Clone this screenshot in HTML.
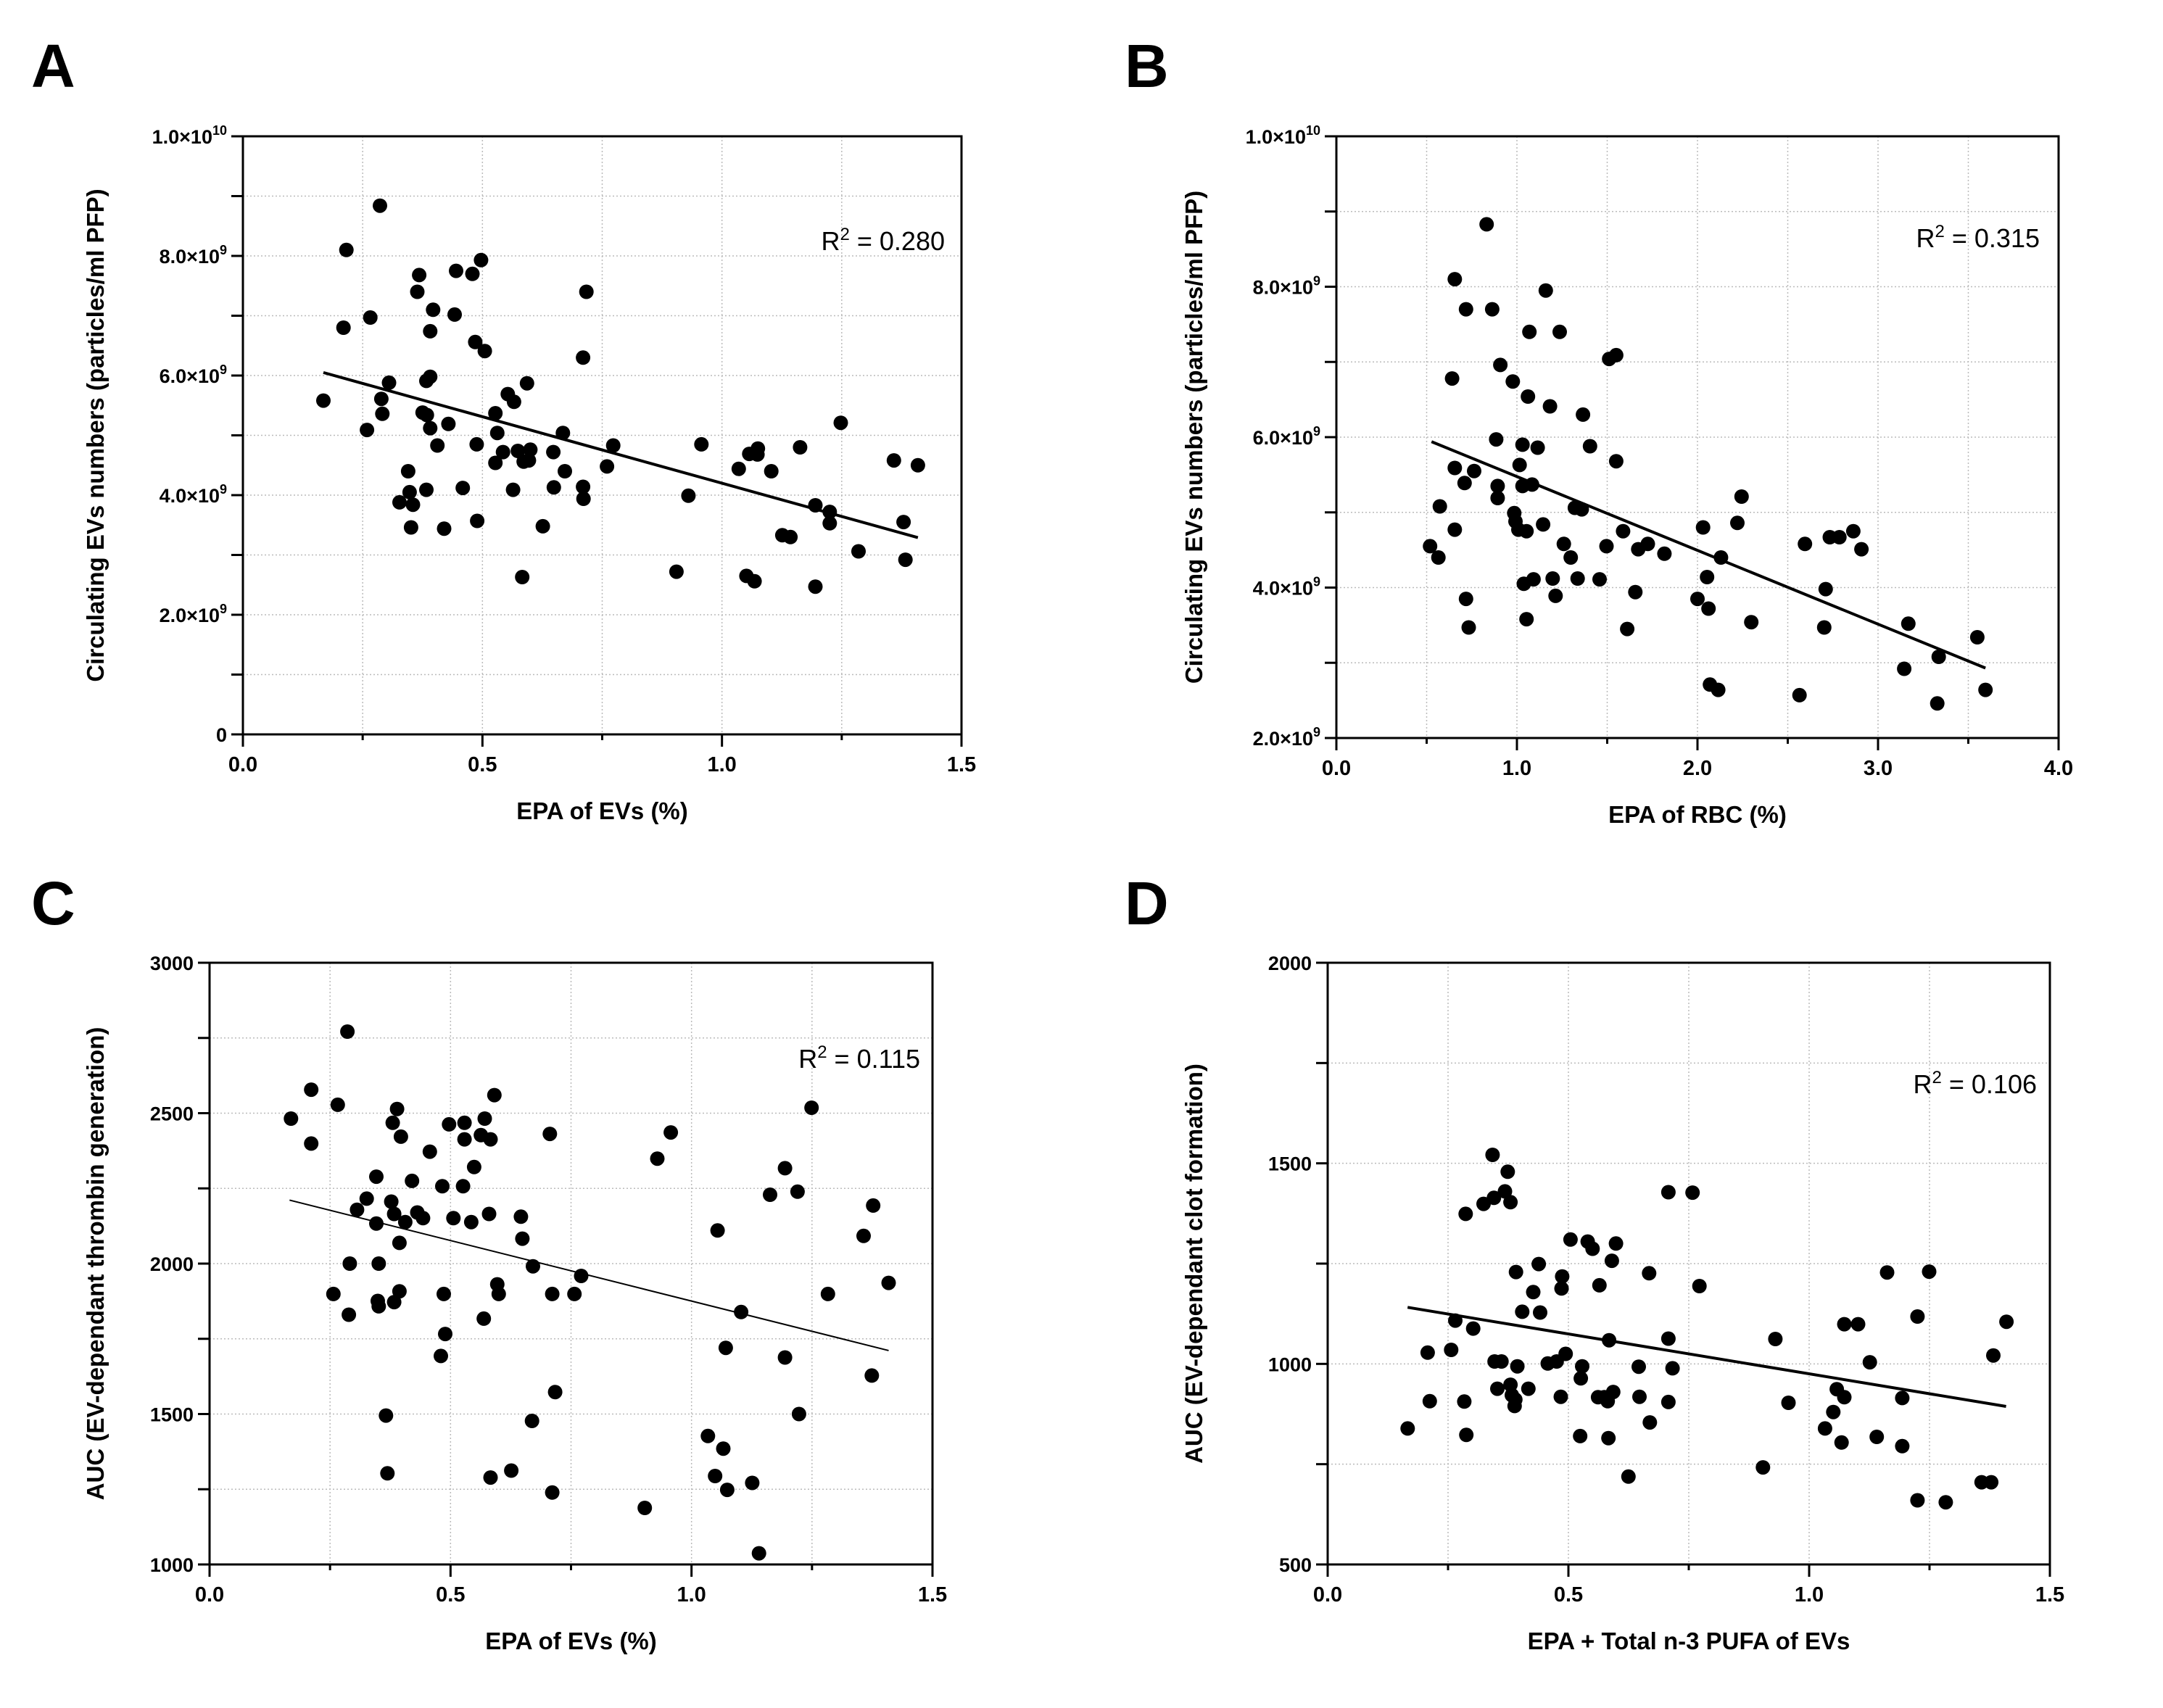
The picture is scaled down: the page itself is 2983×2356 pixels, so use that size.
<!DOCTYPE html>
<html><head><meta charset="utf-8"><style>
html,body{margin:0;padding:0;background:#fff}
svg{display:block}
text{font-family:"Liberation Sans",Arial,sans-serif}
</style></head><body>
<svg id="s" width="2983" height="2356" viewBox="0 0 2983 2356" xmlns="http://www.w3.org/2000/svg"></svg>
<script>
const S=document.getElementById('s');
let out='';
function panel(o){
  const {L,R,T,B,x0,x1,y0,y1}=o;
  const px=x=>L+(x-x0)/(x1-x0)*(R-L);
  const py=y=>B-(y-y0)/(y1-y0)*(B-T);
  for(let v=x0+o.xg; v<x1-1e-9; v+=o.xg){const X=px(v);out+=`<line x1="${X}" y1="${T}" x2="${X}" y2="${B}" stroke="#bbb" stroke-width="1.5" stroke-dasharray="2,3"/>`;}
  for(let v=y0+o.yg; v<y1-1e-9; v+=o.yg){const Y=py(v);out+=`<line x1="${L}" y1="${Y}" x2="${R}" y2="${Y}" stroke="#bbb" stroke-width="1.5" stroke-dasharray="2,3"/>`;}
  out+=`<rect x="${L}" y="${T}" width="${R-L}" height="${B-T}" fill="none" stroke="#000" stroke-width="3"/>`;
  for(let v=x0; v<=x1+1e-9; v+=o.xg){const X=px(v);const maj=Math.abs(v/o.xm-Math.round(v/o.xm))<1e-6;
    out+=`<line x1="${X}" y1="${B}" x2="${X}" y2="${B+(maj?17:8)}" stroke="#000" stroke-width="3"/>`;
    if(maj) out+=`<text x="${X}" y="${B+51}" font-size="29" font-weight="bold" text-anchor="middle">${v.toFixed(1)}</text>`;}
  for(let v=y0; v<=y1+1e-9; v+=o.yg){const Y=py(v);const maj=Math.abs((v-y0)/o.ym-Math.round((v-y0)/o.ym))<1e-6;
    out+=`<line x1="${L-16}" y1="${Y}" x2="${L}" y2="${Y}" stroke="#000" stroke-width="3"/>`;
    if(maj) out+=`<text x="${L-22}" y="${Y+10}" font-size="27" font-weight="bold" text-anchor="end">${o.fmt(v)}</text>`;}
  for(const p of o.pts){out+=`<circle cx="${px(p[0]).toFixed(1)}" cy="${py(p[1]).toFixed(1)}" r="10" fill="#000"/>`;}
  const l=o.line;
  out+=`<line x1="${px(l[0])}" y1="${py(l[1])}" x2="${px(l[2])}" y2="${py(l[3])}" stroke="#000" stroke-width="${o.lw}"/>`;
  out+=`<text x="${o.rx}" y="${o.ry}" font-size="36" text-anchor="end">R<tspan font-size="24" dy="-14">2</tspan><tspan dy="14"> = ${o.r2}</tspan></text>`;
  out+=`<text x="${(L+R)/2}" y="${B+117}" font-size="33" font-weight="bold" text-anchor="middle">${o.xt}</text>`;
  out+=`<text transform="translate(${o.ytx},${(T+B)/2}) rotate(-90)" font-size="33" font-weight="bold" text-anchor="middle">${o.yt}</text>`;
  out+=`<text x="${o.lx}" y="${o.ly}" font-size="84" font-weight="bold">${o.letter}</text>`;
}
const sci=v=>v===0?'0':`${(v/Math.pow(10,Math.floor(Math.log10(v)+1e-9))).toFixed(1)}×10<tspan font-size="18" dy="-12">${Math.floor(Math.log10(v)+1e-9)}</tspan>`;
const A=[[.168,5.58],[.216,8.10],[.210,6.80],[.286,8.84],[.266,6.97],[.259,5.09],[.289,5.61],[.291,5.36],[.305,5.88],[.345,4.40],[.348,4.05],[.327,3.88],[.351,3.46],[.355,3.84],[.364,7.40],[.368,7.68],[.375,5.38],[.383,4.09],[.383,5.91],[.384,5.34],[.391,6.74],[.391,5.98],[.391,5.12],[.397,7.10],[.406,4.83],[.420,3.44],[.429,5.19],[.442,7.02],[.445,7.75],[.459,4.12],[.479,7.70],[.485,6.56],[.488,4.85],[.489,3.57],[.497,7.93],[.505,6.41],[.527,5.37],[.527,4.54],[.531,5.04],[.543,4.72],[.553,5.69],[.564,4.09],[.566,5.56],[.574,4.74],[.583,2.63],[.586,4.56],[.593,5.87],[.597,4.58],[.600,4.76],[.626,3.48],[.648,4.72],[.649,4.13],[.668,5.04],[.672,4.40],[.710,6.30],[.710,4.14],[.711,3.94],[.717,7.40],[.760,4.48],[.773,4.83],[.905,2.72],[.930,3.99],[.957,4.85],[1.035,4.44],[1.051,2.65],[1.057,4.69],[1.068,2.56],[1.074,4.68],[1.075,4.78],[1.103,4.40],[1.126,3.33],[1.143,3.30],[1.163,4.80],[1.195,3.83],[1.195,2.47],[1.225,3.72],[1.225,3.53],[1.248,5.21],[1.285,3.06],[1.359,4.58],[1.379,3.55],[1.383,2.92],[1.409,4.50]].map(p=>[p[0],p[1]*1e9]);
const Bp=[[.519,4.55],[.565,4.40],[.573,5.08],[.641,6.78],[.656,8.10],[.656,5.59],[.656,4.77],[.71,5.39],[.718,7.70],[.718,3.85],[.733,3.47],[.763,5.55],[.832,8.83],[.863,7.70],[.885,5.97],[.893,5.35],[.893,5.19],[.908,6.96],[.977,6.74],[.985,4.99],[.992,4.88],[1.008,4.77],[1.015,5.63],[1.031,5.90],[1.031,5.35],[1.038,4.05],[1.053,3.58],[1.053,4.75],[1.061,6.54],[1.069,7.40],[1.084,5.37],[1.092,4.11],[1.115,5.86],[1.145,4.84],[1.160,7.95],[1.183,6.41],[1.198,4.12],[1.214,3.89],[1.237,7.40],[1.26,4.58],[1.298,4.40],[1.321,5.06],[1.336,4.12],[1.359,5.04],[1.366,6.30],[1.405,5.88],[1.458,4.11],[1.496,4.55],[1.511,7.04],[1.55,7.09],[1.55,5.68],[1.588,4.75],[1.611,3.45],[1.656,3.94],[1.672,4.51],[1.725,4.58],[1.817,4.45],[2.0,3.85],[2.031,4.80],[2.053,4.14],[2.061,3.72],[2.069,2.71],[2.115,2.64],[2.13,4.40],[2.221,4.86],[2.244,5.21],[2.298,3.54],[2.565,2.57],[2.595,4.58],[2.702,3.47],[2.71,3.98],[2.733,4.67],[2.786,4.67],[2.863,4.75],[2.908,4.51],[3.168,3.52],[3.145,2.92],[3.336,3.08],[3.328,2.46],[3.55,3.34],[3.595,2.64]].map(p=>[p[0],p[1]*1e9]);
const C=[[.169,2482],[.211,2578],[.211,2399],[.266,2528],[.257,1899],[.286,2771],[.291,2000],[.289,1830],[.306,2179],[.326,2216],[.346,2289],[.346,2133],[.351,2000],[.349,1876],[.351,1858],[.366,1495],[.369,1303],[.377,2206],[.380,2468],[.383,2165],[.383,1872],[.389,2514],[.394,2069],[.394,1908],[.397,2422],[.406,2138],[.420,2275],[.431,2170],[.443,2151],[.457,2372],[.480,1693],[.483,2257],[.486,1899],[.489,1766],[.497,2463],[.506,2151],[.526,2257],[.529,2468],[.529,2413],[.543,2138],[.549,2321],[.563,2427],[.569,1817],[.571,2482],[.583,2413],[.580,2165],[.583,1289],[.591,2560],[.597,1931],[.600,1899],[.626,1312],[.646,2156],[.649,2083],[.669,1477],[.671,1991],[.706,2431],[.711,1899],[.711,1239],[.717,1573],[.757,1899],[.771,1959],[.903,1188],[.929,2349],[.957,2436],[1.034,1427],[1.049,1294],[1.054,2110],[1.066,1385],[1.071,1720],[1.074,1248],[1.103,1839],[1.126,1271],[1.14,1037],[1.163,2229],[1.194,2317],[1.194,1688],[1.22,2239],[1.223,1500],[1.249,2518],[1.283,1899],[1.357,2092],[1.377,2193],[1.374,1628],[1.409,1936]];
const Dz=[[473,839],[502,1028],[505,907],[536,1035],[542,1108],[555,906],[557,1374],[558,823],[568,1088],[583,1399],[596,1521],[598,1414],[599,1006],[603,938],[609,1006],[614,1430],[618,1479],[622,948],[622,1403],[624,922],[628,895],[629,911],[630,1229],[632,994],[639,1130],[648,938],[655,1179],[663,1249],[665,1128],[676,1001],[689,1006],[695,918],[696,1188],[697,1218],[702,1025],[709,1310],[723,820],[724,964],[726,994],[734,1305],[741,1287],[749,917],[751,1196],[758,917],[763,907],[764,815],[765,1059],[769,1257],[771,930],[775,1300],[793,719],[808,993],[809,918],[824,854],[823,1226],[851,1428],[851,1063],[851,905],[857,989],[886,1427],[896,1194],[988,742],[1006,1062],[1025,903],[1078,839],[1090,880],[1095,937],[1102,804],[1106,1099],[1106,917],[1126,1099],[1143,1004],[1153,818],[1168,1228],[1190,915],[1190,795],[1212,1118],[1212,660],[1229,1230],[1253,655],[1305,705],[1319,705],[1322,1021],[1341,1105]].map(p=>[(p[0]-357)/698,p[1]]);
const ytA='Circulating EVs numbers (particles/ml PFP)';
panel({L:335,R:1326,T:188,B:1013,x0:0,x1:1.5,y0:0,y1:1e10,xg:.25,xm:.5,yg:1e9,ym:2e9,fmt:sci,pts:A,line:[.168,6.05e9,1.409,3.29e9],lw:4,rx:1303,ry:345,r2:'0.280',xt:'EPA of EVs (%)',yt:ytA,ytx:143,lx:43,ly:120,letter:'A'});
panel({L:1843,R:2839,T:188,B:1018,x0:0,x1:4,y0:2e9,y1:1e10,xg:.5,xm:1,yg:1e9,ym:2e9,fmt:sci,pts:Bp,line:[.527,5.94e9,3.595,2.93e9],lw:4,rx:2813,ry:341,r2:'0.315',xt:'EPA of RBC (%)',yt:ytA,ytx:1658,lx:1551,ly:120,letter:'B'});
panel({L:289,R:1286,T:1328,B:2158,x0:0,x1:1.5,y0:1000,y1:3000,xg:.25,xm:.5,yg:250,ym:500,fmt:v=>v,pts:C,line:[.166,2211,1.409,1711],lw:2,rx:1269,ry:1473,r2:'0.115',xt:'EPA of EVs (%)',yt:'AUC (EV-dependant thrombin generation)',ytx:143,lx:43,ly:1275,letter:'C'});
panel({L:1831,R:2827,T:1328,B:2158,x0:0,x1:1.5,y0:500,y1:2000,xg:.25,xm:.5,yg:250,ym:500,fmt:v=>v,pts:Dz,line:[.166,1141,1.409,894],lw:4,rx:2809,ry:1508,r2:'0.106',xt:'EPA + Total n-3 PUFA of EVs',yt:'AUC (EV-dependant clot formation)',ytx:1658,lx:1551,ly:1275,letter:'D'});
S.innerHTML=out;
</script>
</body></html>
